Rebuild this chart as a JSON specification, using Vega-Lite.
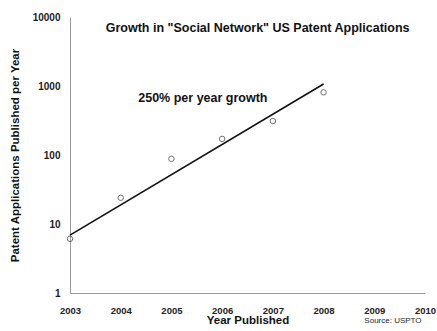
{
  "$schema": "https://vega.github.io/schema/vega-lite/v6.json",
  "autosize": "none",
  "width": 355,
  "height": 276,
  "padding": {"left": 70, "top": 17, "right": 12, "bottom": 38},
  "background": "white",
  "config": {"view": {"stroke": null}, "font": "Liberation Sans"},
  "title": {"text": "Source: USPTO", "orient": "bottom", "anchor": "end", "fontSize": 8, "fontWeight": "normal", "color": "#222", "offset": -9, "dx": -14, "font": "Liberation Sans"},
  "datasets": {
    "points": [
      {"year": 2003, "apps": 6.1},
      {"year": 2004, "apps": 24},
      {"year": 2005, "apps": 88},
      {"year": 2006, "apps": 171},
      {"year": 2007, "apps": 311},
      {"year": 2008, "apps": 810}
    ],
    "trend": [
      {"year": 2003, "apps": 6.9},
      {"year": 2008, "apps": 1070}
    ],
    "labels": [
      {"year": 2006.7, "apps": 7000, "text": "Growth in \"Social Network\" US Patent Applications", "kind": "title"},
      {"year": 2005.62, "apps": 660, "text": "250% per year growth", "kind": "note"}
    ]
  },
  "layer": [
    {
      "data": {"name": "trend"},
      "mark": {"type": "line", "color": "#111", "strokeWidth": 1.6},
      "encoding": {
        "x": {"field": "year", "type": "quantitative", "scale": {"domain": [2003, 2010], "nice": false, "zero": false},
          "axis": {"title": "Year Published", "format": "d", "values": [2003, 2004, 2005, 2006, 2007, 2008, 2009, 2010], "labelOverlap": false, "grid": false, "ticks": false, "domainColor": "#999", "labelFontSize": 9.5, "labelFontWeight": "bold", "labelColor": "#222", "labelPadding": 12, "titleFontSize": 11.5, "titleFontWeight": "bold", "titleColor": "#111", "titlePadding": 0, "labelFlush": false}},
        "y": {"field": "apps", "type": "quantitative", "scale": {"type": "log", "domain": [1, 10000], "nice": false},
          "axis": {"title": "Patent Applications Published per Year", "values": [1, 10, 100, 1000, 10000], "format": "d", "labelOverlap": false, "grid": false, "ticks": false, "domainColor": "#999", "labelFontSize": 10, "labelFontWeight": "bold", "labelColor": "#222", "labelPadding": 10, "titleFontSize": 11.5, "titleFontWeight": "bold", "titleColor": "#111", "titlePadding": 12}}
      }
    },
    {
      "data": {"name": "points"},
      "mark": {"type": "point", "shape": "circle", "filled": false, "stroke": "#333", "strokeWidth": 1, "size": 30},
      "encoding": {
        "x": {"field": "year", "type": "quantitative"},
        "y": {"field": "apps", "type": "quantitative"}
      }
    },
    {
      "data": {"name": "labels"},
      "mark": {"type": "text", "fontWeight": "bold", "color": "#111"},
      "encoding": {
        "x": {"field": "year", "type": "quantitative"},
        "y": {"field": "apps", "type": "quantitative"},
        "text": {"field": "text"},
        "size": {"field": "kind", "type": "nominal", "scale": {"domain": ["title", "note"], "range": [12.5, 12.5]}, "legend": null}
      }
    }
  ]
}
